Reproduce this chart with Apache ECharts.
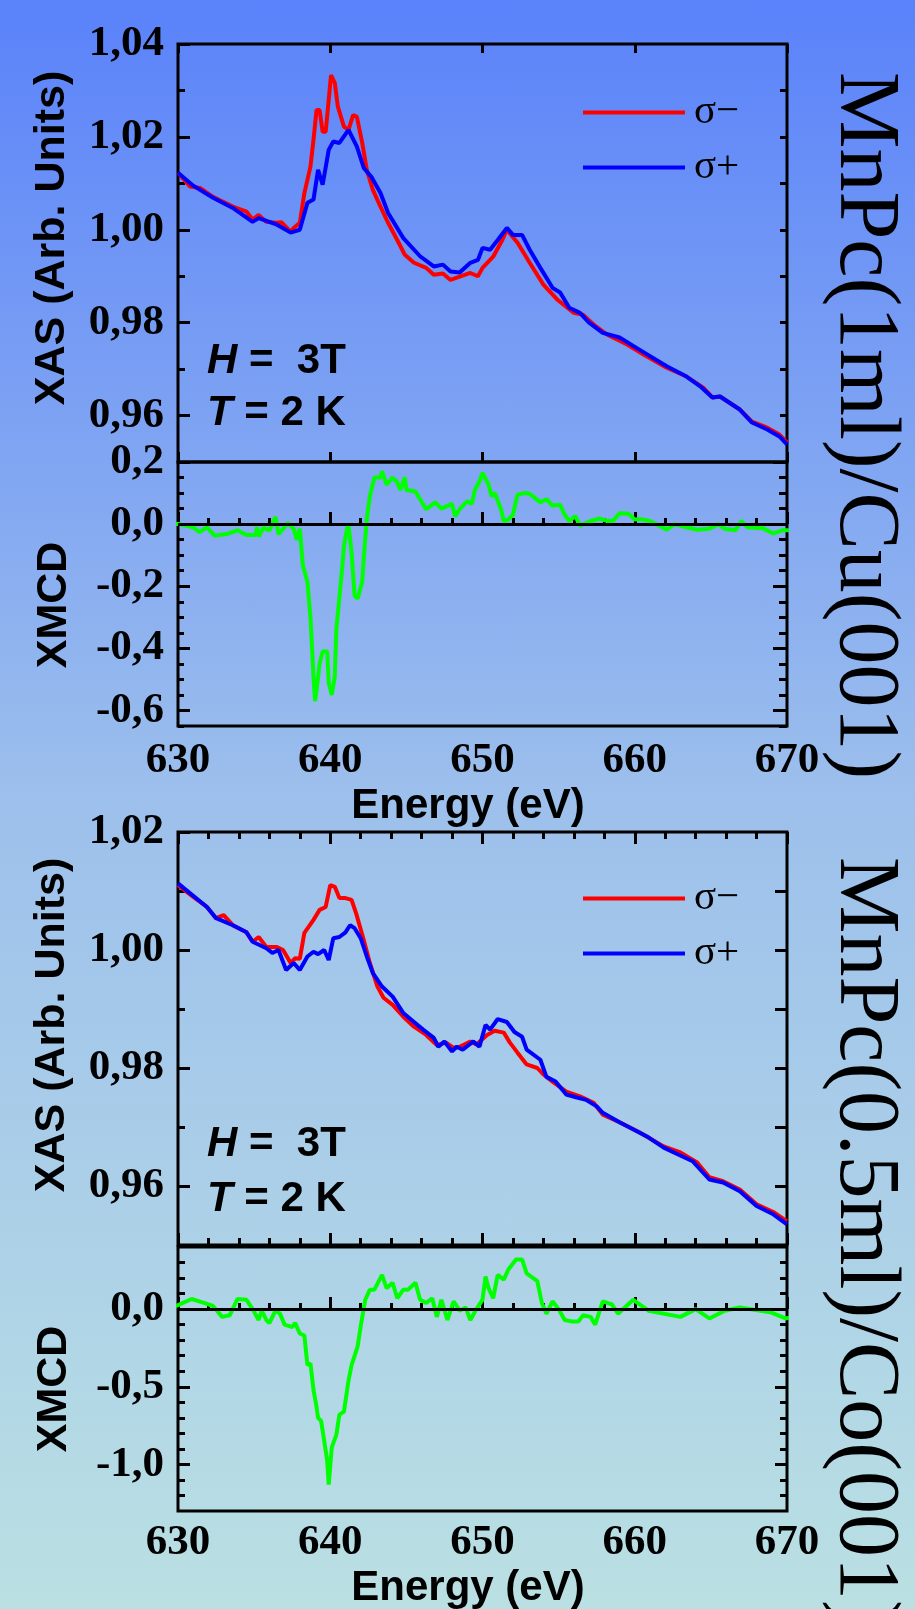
<!DOCTYPE html>
<html>
<head>
<meta charset="utf-8">
<title>MnPc XAS / XMCD</title>
<script src="https://cdn.jsdelivr.net/npm/echarts@6/dist/echarts.min.js"></script>
<style>
  html, body { margin: 0; padding: 0; }
  #chart {
    width: 915px; height: 1609px;
    background: linear-gradient(to bottom, #5a82fa 0%, #9dc0ec 50%, #bae0e3 100%);
  }
</style>
</head>
<body>
<div id="chart"></div>
<script type="text/javascript">
// MnPc(1ml)/Cu(001): XAS for both helicities, [energy eV, intensity]
var cuSigmaMinus = [[630,1.0123],[630.8,1.0093],[631.45,1.009],[632.3,1.0071],[633.6,1.005],[634.5,1.0039],[634.9,1.0022],[635.3,1.0032],[635.8,1.0017],[636.5,1.0015],[636.8,1.0016],[637.4,0.9996],[637.6,1.0004],[638.0,1.0015],[638.3,1.0079],[638.7,1.0136],[638.9,1.0194],[639.1,1.0258],[639.3,1.0258],[639.5,1.0211],[639.7,1.0211],[639.9,1.028],[640.05,1.0333],[640.3,1.0316],[640.5,1.0265],[640.9,1.0222],[641.2,1.0215],[641.5,1.0247],[641.75,1.0243],[642.1,1.0187],[642.4,1.0129],[642.8,1.0086],[643.3,1.005],[643.8,1.0015],[644.4,0.9978],[644.9,0.9946],[645.5,0.9929],[646.3,0.9918],[646.8,0.9903],[647.4,0.9906],[647.9,0.9892],[648.5,0.9899],[649.2,0.9907],[649.7,0.99],[650.0,0.9918],[650.7,0.9942],[651.3,0.9978],[651.6,1.0],[652.3,0.9972],[653.1,0.9929],[654.0,0.9882],[654.9,0.985],[656.0,0.9821],[656.6,0.9817],[657.3,0.9796],[658.2,0.9774],[659.5,0.9753],[660.6,0.9731],[662.1,0.9703],[663.4,0.9684],[664.5,0.966],[665.1,0.9639],[665.6,0.9641],[666.9,0.9613],[667.7,0.9587],[668.7,0.9574],[669.5,0.9559],[670,0.9542]];
var cuSigmaPlus = [[630,1.0123],[631.0,1.0095],[632.3,1.0069],[633.6,1.0047],[634.9,1.0017],[635.3,1.0025],[636.5,1.0011],[637.4,0.9994],[638.0,1.0],[638.5,1.0058],[638.9,1.0065],[639.2,1.0129],[639.5,1.0097],[639.9,1.0172],[640.2,1.019],[640.6,1.0187],[641.2,1.0215],[641.75,1.0179],[642.2,1.0133],[642.7,1.0114],[643.3,1.0079],[643.8,1.0036],[644.8,0.9982],[645.9,0.9943],[646.8,0.9921],[647.4,0.9925],[647.9,0.991],[648.5,0.9908],[649.2,0.9929],[649.7,0.9935],[650.0,0.9961],[650.5,0.9957],[651.0,0.9978],[651.6,1.0004],[652.0,0.9989],[652.6,0.9989],[653.1,0.9957],[653.8,0.9918],[654.6,0.9875],[655.1,0.9865],[655.7,0.9832],[656.4,0.9821],[657.0,0.98],[657.9,0.9778],[659.0,0.9768],[660.3,0.9742],[662.1,0.9706],[663.4,0.9684],[664.3,0.9663],[665.1,0.9639],[665.6,0.9641],[666.9,0.9613],[667.7,0.9585],[668.7,0.957],[669.5,0.9555],[670,0.9538]];
var cuXmcd = [[629.3,0],[630.1,0],[631.0,-0.01],[631.4,-0.026],[631.9,-0.01],[632.4,-0.037],[633.2,-0.032],[633.9,-0.02],[634.5,-0.035],[635.1,-0.035],[635.2,-0.01],[635.3,-0.04],[635.6,-0.012],[636.0,-0.02],[636.4,0.023],[636.6,-0.032],[637.0,-0.01],[637.2,0.005],[637.6,-0.015],[637.8,-0.05],[638.0,-0.015],[638.2,-0.133],[638.5,-0.185],[638.7,-0.30],[638.9,-0.49],[639.0,-0.57],[639.1,-0.535],[639.3,-0.45],[639.5,-0.41],[639.8,-0.41],[639.9,-0.51],[640.1,-0.55],[640.3,-0.49],[640.4,-0.34],[640.8,-0.133],[640.9,-0.07],[641.1,-0.016],[641.2,-0.005],[641.4,-0.09],[641.6,-0.23],[641.8,-0.24],[641.9,-0.24],[642.1,-0.185],[642.2,-0.11],[642.4,0.016],[642.6,0.09],[642.9,0.15],[643.3,0.15],[643.4,0.17],[643.7,0.127],[644.1,0.15],[644.4,0.135],[644.6,0.11],[644.9,0.15],[645.0,0.11],[645.6,0.105],[645.9,0.08],[646.3,0.048],[646.9,0.07],[647.3,0.05],[648.0,0.065],[648.2,0.025],[648.5,0.048],[649.0,0.074],[649.3,0.065],[649.5,0.11],[649.8,0.137],[650.0,0.165],[650.4,0.127],[650.6,0.09],[650.8,0.1],[651.2,0.05],[651.4,0.01],[651.7,0.015],[652.0,0.03],[652.3,0.095],[652.8,0.1],[653.1,0.098],[653.8,0.07],[654.2,0.08],[654.6,0.06],[655.1,0.062],[655.4,0.03],[655.7,0.01],[656.1,0.026],[656.4,-0.005],[657.1,0.01],[657.7,0.018],[658.2,0.01],[658.6,0.012],[659.0,0.035],[659.6,0.033],[660.0,0.015],[660.4,0.016],[661.0,0.01],[661.8,-0.01],[662.1,-0.018],[662.6,0.0],[663.4,-0.01],[664.1,-0.018],[664.9,-0.015],[665.5,0.0],[665.9,-0.015],[666.6,-0.02],[667.0,0.01],[667.4,-0.01],[668.4,-0.013],[669.1,-0.03],[669.7,-0.02],[670.7,-0.02]];

// MnPc(0.5ml)/Co(001)
var coSigmaMinus = [[630,1.011],[631.0,1.009],[631.9,1.0073],[632.5,1.0054],[633.0,1.0059],[633.6,1.0042],[634.5,1.003],[634.9,1.0014],[635.3,1.0022],[635.8,1.0005],[636.5,1.0005],[636.9,1.0],[637.4,0.9978],[637.7,0.9986],[638.0,0.9985],[638.3,1.0029],[638.9,1.0051],[639.3,1.0068],[639.7,1.0073],[640.0,1.011],[640.3,1.0107],[640.6,1.0088],[641.0,1.0088],[641.4,1.0085],[641.7,1.0062],[642.2,1.0017],[642.6,0.9978],[643.1,0.9938],[643.5,0.9919],[644.1,0.9907],[644.8,0.9887],[645.5,0.987],[646.3,0.9856],[647.0,0.9839],[647.6,0.9843],[648.1,0.9834],[648.5,0.9836],[649.2,0.9845],[649.6,0.984],[650.3,0.9856],[650.8,0.9863],[651.4,0.986],[651.8,0.9843],[652.3,0.9826],[652.9,0.9806],[653.6,0.98],[654.0,0.9789],[654.6,0.9777],[655.5,0.976],[656.4,0.9752],[657.3,0.9741],[657.9,0.9721],[659.0,0.9708],[660.3,0.9691],[661.9,0.9667],[663.0,0.9657],[664.1,0.964],[664.9,0.9615],[665.8,0.9608],[666.9,0.9594],[668.0,0.9569],[669.1,0.9556],[670,0.954]];
var coSigmaPlus = [[630,1.0113],[631.9,1.0073],[632.5,1.0054],[633.6,1.0042],[634.5,1.003],[634.9,1.0014],[635.8,1.0003],[636.2,0.9995],[636.6,1.0],[637.1,0.9966],[637.6,0.9978],[638.0,0.9966],[638.5,0.9989],[638.9,0.9997],[639.2,0.9993],[639.6,1.0],[639.9,0.9983],[640.2,1.002],[640.6,1.0022],[641.0,1.003],[641.3,1.0042],[641.6,1.0037],[642.0,1.002],[642.4,0.9989],[642.8,0.9961],[643.4,0.9938],[644.1,0.9921],[644.8,0.9893],[645.5,0.9878],[646.1,0.9865],[646.8,0.9851],[647.1,0.9836],[647.5,0.9845],[648.0,0.9828],[648.3,0.9836],[648.7,0.9831],[649.4,0.9845],[649.8,0.9836],[650.2,0.9873],[650.5,0.9865],[651.0,0.9883],[651.6,0.9878],[652.1,0.9861],[652.6,0.9853],[652.9,0.9831],[653.8,0.9814],[654.2,0.9785],[654.8,0.9777],[655.5,0.9755],[656.2,0.975],[656.8,0.9746],[657.5,0.9735],[657.9,0.9724],[659.0,0.9708],[660.8,0.9684],[661.9,0.9665],[663.8,0.9642],[664.9,0.9611],[665.8,0.9606],[666.9,0.9591],[668.0,0.9566],[669.1,0.9552],[670,0.9535]];
var coXmcd = [[629.3,0],[630.0,0.026],[630.9,0.065],[631.7,0.04],[632.3,0.02],[632.9,-0.05],[633.4,-0.04],[633.9,0.065],[634.5,0.06],[634.9,0.0],[635.3,-0.07],[635.5,-0.01],[635.8,-0.07],[636.0,-0.09],[636.4,-0.01],[636.7,-0.03],[637.0,-0.1],[637.5,-0.115],[637.7,-0.09],[638.0,-0.157],[638.3,-0.17],[638.5,-0.36],[638.7,-0.35],[638.9,-0.52],[639.1,-0.63],[639.2,-0.70],[639.4,-0.72],[639.7,-0.91],[639.8,-0.98],[639.9,-1.13],[640.1,-0.89],[640.4,-0.81],[640.6,-0.68],[640.9,-0.66],[641.2,-0.46],[641.4,-0.36],[641.8,-0.24],[642.0,-0.11],[642.3,0.06],[642.6,0.125],[642.9,0.125],[643.4,0.22],[643.7,0.135],[644.1,0.17],[644.4,0.07],[644.8,0.125],[645.1,0.125],[645.6,0.17],[645.9,0.06],[646.3,0.04],[646.7,0.07],[647.0,-0.05],[647.3,0.06],[647.7,-0.07],[648.1,0.05],[648.5,-0.01],[648.9,0.01],[649.2,-0.07],[649.6,0.0],[650.0,0.06],[650.2,0.21],[650.4,0.135],[650.7,0.07],[651.0,0.22],[651.4,0.19],[651.7,0.255],[652.2,0.32],[652.6,0.32],[652.9,0.23],[653.6,0.18],[653.9,0.04],[654.2,-0.03],[654.6,0.05],[655.0,0.0],[655.4,-0.07],[655.9,-0.08],[656.3,-0.08],[656.6,-0.04],[657.1,-0.05],[657.4,-0.1],[657.9,0.05],[658.5,0.03],[658.9,-0.03],[659.9,0.06],[660.9,-0.01],[663.0,-0.05],[664.0,0.0],[664.9,-0.06],[665.9,-0.01],[666.9,0.01],[668.9,-0.02],[669.9,-0.06],[670.9,-0.04]];

// tick positions / labels
var cuXasLabels = [0.96, 0.98, 1.00, 1.02, 1.04];
var cuXasMinor = [0.97, 0.99, 1.01, 1.03];
var cuXasRight = [0.96, 0.97, 0.98, 0.99, 1.00, 1.01, 1.02, 1.03];
var cuXmcdLabels = [-0.6, -0.4, -0.2, 0, 0.2];
var cuXmcdMinor = [-0.65, -0.55, -0.5, -0.45, -0.35, -0.3, -0.25, -0.15, -0.1, -0.05, 0.05, 0.1, 0.15];
var coXasLabels = [0.96, 0.98, 1.00, 1.02];
var coXasMinor = [0.97, 0.99, 1.01];
var coXasRight = [0.96, 0.97, 0.98, 0.99, 1.00, 1.01];
var coXmcdLabels = [-1.0, -0.5, 0];
var coXmcdMinor = [-1.2, -1.1, -0.9, -0.8, -0.7, -0.6, -0.4, -0.3, -0.2, -0.1, 0.1, 0.2, 0.3];

var SERIF = '"Liberation Serif", "Times New Roman", serif';
var SANS = '"Liberation Sans", Arial, sans-serif';
var tickLine = { color: '#000', width: 3 };

function comma(d) {
    return function (v) { return v.toFixed(d).replace('.', ','); };
}

function yAx(grid, side, min, max, ticks, len, labels, dec) {
    return {
        type: 'value', gridIndex: grid, position: side, min: min, max: max,
        axisLine: { show: false }, splitLine: { show: false },
        axisTick: { show: true, inside: true, length: len, customValues: ticks, lineStyle: tickLine },
        axisLabel: labels ? {
            show: true, customValues: labels, formatter: comma(dec), margin: 14,
            fontFamily: SERIF, fontWeight: 'bold', fontSize: 43, color: '#000'
        } : { show: false }
    };
}

function xAx(grid, side, len, minorLen, labelMargin) {
    return {
        type: 'value', gridIndex: grid, position: side, min: 630, max: 670, interval: 10,
        axisLine: { show: false }, splitLine: { show: false },
        axisTick: { show: true, inside: true, length: len, lineStyle: tickLine },
        minorTick: { show: minorLen > 0, splitNumber: 5, length: minorLen, lineStyle: tickLine },
        axisLabel: labelMargin ? {
            show: true, margin: labelMargin,
            fontFamily: SERIF, fontWeight: 'bold', fontSize: 43, color: '#000'
        } : { show: false }
    };
}

function line(name, color, data, xi, yi) {
    return {
        name: name, type: 'line', data: data, xAxisIndex: xi, yAxisIndex: yi,
        showSymbol: false, clip: false, color: color,
        lineStyle: { color: color, width: 4 }
    };
}

function xmcd(data, xi, yi) {
    var s = line('XMCD', '#00ff00', data, xi, yi);
    s.markLine = {
        silent: true, symbol: ['none', 'none'], label: { show: false },
        lineStyle: { color: '#000', width: 3, type: 'solid' },
        data: [{ yAxis: 0 }]
    };
    return s;
}

function legendAt(top) {
    return {
        data: ['σ−', 'σ+'], orient: 'vertical', left: 583, top: top, padding: 0,
        icon: 'rect', itemWidth: 102, itemHeight: 4, itemGap: 14, selectedMode: false,
        textStyle: { fontFamily: SERIF, fontSize: 41, color: '#000', padding: [0, 0, 0, 4] }
    };
}

function label(text, x, y, rot, size, family, weight, align) {
    return {
        type: 'text', x: x, y: y, rotation: rot,
        style: {
            text: text, fill: '#000', fontSize: size, fontFamily: family, fontWeight: weight,
            align: align || 'center', verticalAlign: 'middle',
            rich: { i: { fontStyle: 'italic', fontWeight: 'bold', fontSize: size, fontFamily: family } }
        }
    };
}

var gridBox = { left: 178, width: 609, show: true, borderColor: '#000', borderWidth: 3, backgroundColor: 'transparent', outerBoundsMode: 'none' };
function grid(top, height) {
    return Object.assign({}, gridBox, { top: top, height: height });
}

var myChart = echarts.init(document.getElementById('chart'));

myChart.setOption({
    animation: false,
    grid: [grid(44, 418), grid(462, 264), grid(832, 413), grid(1247, 264)],
    xAxis: [
        xAx(0, 'bottom', 10, 0),
        xAx(0, 'top', 9, 0),
        xAx(1, 'bottom', 12, 6, 13),
        xAx(2, 'bottom', 12, 7),
        xAx(2, 'top', 12, 7),
        xAx(3, 'bottom', 12, 6, 10)
    ],
    yAxis: [
        yAx(0, 'left', 0.95, 1.04, cuXasLabels, 12, cuXasLabels, 2),
        yAx(0, 'left', 0.95, 1.04, cuXasMinor, 7),
        yAx(0, 'right', 0.95, 1.04, cuXasRight, 7),
        yAx(1, 'left', -0.65, 0.2, cuXmcdLabels, 12, cuXmcdLabels, 1),
        yAx(1, 'left', -0.65, 0.2, cuXmcdMinor, 6),
        yAx(1, 'right', -0.65, 0.2, cuXmcdLabels, 14),
        yAx(1, 'right', -0.65, 0.2, cuXmcdMinor, 8),
        yAx(2, 'left', 0.95, 1.02, coXasLabels, 12, coXasLabels, 2),
        yAx(2, 'left', 0.95, 1.02, coXasMinor, 7),
        yAx(2, 'right', 0.95, 1.02, coXasRight, 12),
        yAx(3, 'left', -1.3, 0.4, coXmcdLabels, 12, coXmcdLabels, 1),
        yAx(3, 'left', -1.3, 0.4, coXmcdMinor, 7),
        yAx(3, 'right', -1.3, 0.4, coXmcdLabels, 12),
        yAx(3, 'right', -1.3, 0.4, coXmcdMinor, 7)
    ],
    legend: [legendAt(92), legendAt(878)],
    series: [
        line('σ−', '#ff0000', cuSigmaMinus, 0, 0),
        line('σ+', '#0000ff', cuSigmaPlus, 0, 0),
        xmcd(cuXmcd, 2, 3),
        line('σ−', '#ff0000', coSigmaMinus, 3, 7),
        line('σ+', '#0000ff', coSigmaPlus, 3, 7),
        xmcd(coXmcd, 5, 10)
    ],
    graphic: [
        label('XAS (Arb. Units)', 52, 238, Math.PI / 2, 43, SANS, 'bold'),
        label('XMCD', 54, 605, Math.PI / 2, 43, SANS, 'bold'),
        label('XAS (Arb. Units)', 52, 1025, Math.PI / 2, 43, SANS, 'bold'),
        label('XMCD', 54, 1389, Math.PI / 2, 43, SANS, 'bold'),
        label('Energy (eV)', 468, 806, 0, 42, SANS, 'bold'),
        label('Energy (eV)', 468, 1588, 0, 42, SANS, 'bold'),
        label('{i|H} =  3T', 207, 361, 0, 42, SANS, 'bold', 'left'),
        label('{i|T} = 2 K', 207, 413, 0, 42, SANS, 'bold', 'left'),
        label('{i|H} =  3T', 207, 1144, 0, 42, SANS, 'bold', 'left'),
        label('{i|T} = 2 K', 207, 1199, 0, 42, SANS, 'bold', 'left'),
        label('MnPc(1ml)/Cu(001)', 864, 72, -Math.PI / 2, 86, SERIF, 'normal', 'left'),
        label('MnPc(0.5ml)/Co(001)', 864, 857, -Math.PI / 2, 86, SERIF, 'normal', 'left')
    ]
});
</script>
</body>
</html>
